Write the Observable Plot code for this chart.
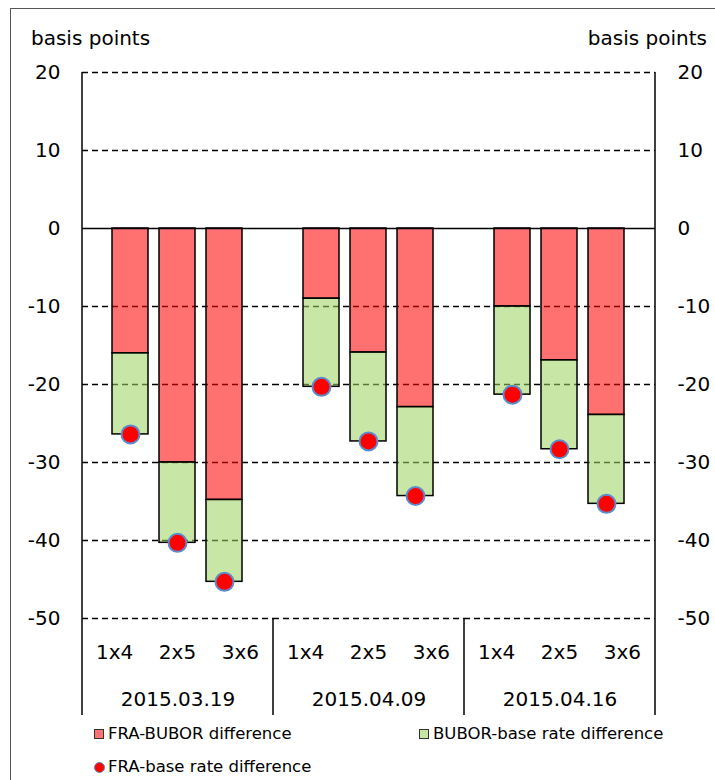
<!DOCTYPE html>
<html>
<head>
<meta charset="utf-8">
<script src="https://cdn.jsdelivr.net/npm/d3@7"></script>
<script src="https://cdn.jsdelivr.net/npm/@observablehq/plot@0.6"></script>
<style>
  html, body { margin: 0; padding: 0; background: #fff; }
  body { position: relative; width: 715px; height: 780px; overflow: hidden; font-family: "DejaVu Sans", sans-serif; color: #000; }
  #border { position: absolute; left: 10px; top: 8px; width: 760px; height: 820px; border: 1.5px solid #555; box-sizing: border-box; }
  #chart { position: absolute; left: 0; top: 0; }
  .unit { position: absolute; top: 28px; font-size: 20px; line-height: 1; white-space: nowrap; }
  .leg { position: absolute; font-size: 16.5px; line-height: 1; white-space: nowrap; display: flex; align-items: center; }
  .sw { display: inline-block; width: 8px; height: 8px; border: 1.5px solid #333; margin-right: 4px; }
  .dt { display: inline-block; width: 9px; height: 9px; border-radius: 50%; background: #ff0000; border: 1.5px solid #5b8ccc; margin-right: 3px; }
</style>
</head>
<body>
<div id="border"></div>
<div id="chart"></div>
<div class="unit" id="unitL" style="left:31px;">basis points</div>
<div class="unit" id="unitR" style="right:8px;">basis points</div>
<div id="legend"></div>
<script>
// ---- data ----
const dates = ["2015.03.19", "2015.04.09", "2015.04.16"];
const tenors = ["1x4", "2x5", "3x6"];
const fraBubor = [-16, -30, -34.8, -9, -15.9, -22.9, -10, -16.9, -23.9];
const buborBase = [-10.4, -10.3, -10.5, -11.3, -11.4, -11.4, -11.3, -11.4, -11.4];
const fraBase = [-26.4, -40.3, -45.3, -20.3, -27.3, -34.3, -21.3, -28.3, -35.3];
const yTicks = [20, 10, 0, -10, -20, -30, -40, -50];
const seriesNames = ["FRA-BUBOR difference", "BUBOR-base rate difference", "FRA-base rate difference"];
const seriesColors = ["#ff0000", "#9dd25e"];

// ---- tables built from arrays ----
const rows = fraBubor.map((v, i) => ({
  date: dates[Math.floor(i / 3)],
  tenor: tenors[i % 3],
  fraBubor: v,
  buborBase: buborBase[i],
  fraBase: fraBase[i]
}));
const stacked = rows.flatMap(r => [
  {date: r.date, tenor: r.tenor, series: seriesNames[0], value: r.fraBubor},
  {date: r.date, tenor: r.tenor, series: seriesNames[1], value: r.buborBase}
]);

const W = 715, mL = 81, mR = 60;
const groupW = (W - mL - mR) / dates.length;
// category labels sit in equal thirds of each group, bars in quarters
const labelShift = groupW / 3 - groupW / 4;

const fmt = d => String(d);

const chart = Plot.plot({
  width: W,
  height: 720,
  marginLeft: mL,
  marginRight: mR,
  marginTop: 72,
  marginBottom: 102,
  style: {fontFamily: "DejaVu Sans", fontSize: "20px", color: "#000", background: "transparent"},
  fx: {domain: dates, padding: 0, axis: null},
  x: {domain: tenors, paddingInner: 0.226, paddingOuter: 0.613, axis: null},
  y: {domain: [-50, 20], axis: null},
  color: {domain: seriesNames.slice(0, 2), range: seriesColors},
  marks: [
    Plot.ruleY(yTicks.filter(t => t !== 0), {stroke: "#000", strokeWidth: 1.5, strokeDasharray: "6,4"}),
    Plot.barY(stacked, {fx: "date", x: "tenor", y: "value", fill: "series", fillOpacity: 0.56, stroke: "#000", strokeWidth: 1.5}),
    Plot.ruleY([0], {stroke: "#000", strokeWidth: 1.5}),
    Plot.dot(rows, {fx: "date", x: "tenor", y: "fraBase", r: 9, fill: "#ff0000", stroke: "#5b8ccc", strokeWidth: 2}),
    Plot.axisY(yTicks, {anchor: "left", tickSize: 0, tickPadding: 22, label: null, tickFormat: fmt}),
    Plot.axisY(yTicks, {anchor: "right", tickSize: 0, tickPadding: 22, label: null, tickFormat: fmt}),
    ...tenors.map((t, i) => Plot.axisX([t], {tickSize: 0, tickPadding: 26.5, label: null, dx: (i - 1) * labelShift})),
    Plot.axisFx({anchor: "bottom", tickSize: 0, tickPadding: 73, label: null})
  ]
});
document.getElementById("chart").appendChild(chart);

// axis and category separator lines, positioned from Plot's own scales
const fxS = chart.scale("fx");
const yS = chart.scale("y");
const yTop = yS.apply(20);
const yBot = yS.apply(-50);
const lineBottom = yBot + 97;
const bounds = dates.map(d => fxS.apply(d)).concat([fxS.apply(dates[dates.length - 1]) + fxS.bandwidth]);
const svg = d3.select(chart);
const g = svg.append("g").attr("stroke", "#000").attr("stroke-width", 1.5);
bounds.forEach((bx, i) => {
  const outer = i === 0 || i === bounds.length - 1;
  g.append("line")
    .attr("x1", bx).attr("x2", bx)
    .attr("y1", outer ? yTop : yBot)
    .attr("y2", lineBottom);
});

// legend
const legend = document.getElementById("legend");
const items = [
  {name: seriesNames[0], kind: "sw", color: "#ff7373", left: 94, top: 726},
  {name: seriesNames[1], kind: "sw", color: "#c8e6a6", left: 419, top: 726},
  {name: seriesNames[2], kind: "dt", color: null, left: 94, top: 759}
];
items.forEach(it => {
  const div = document.createElement("div");
  div.className = "leg";
  div.style.left = it.left + "px";
  div.style.top = it.top + "px";
  const mark = document.createElement("span");
  mark.className = it.kind;
  if (it.color) mark.style.background = it.color;
  div.appendChild(mark);
  div.appendChild(document.createTextNode(it.name));
  legend.appendChild(div);
});
</script>
</body>
</html>
